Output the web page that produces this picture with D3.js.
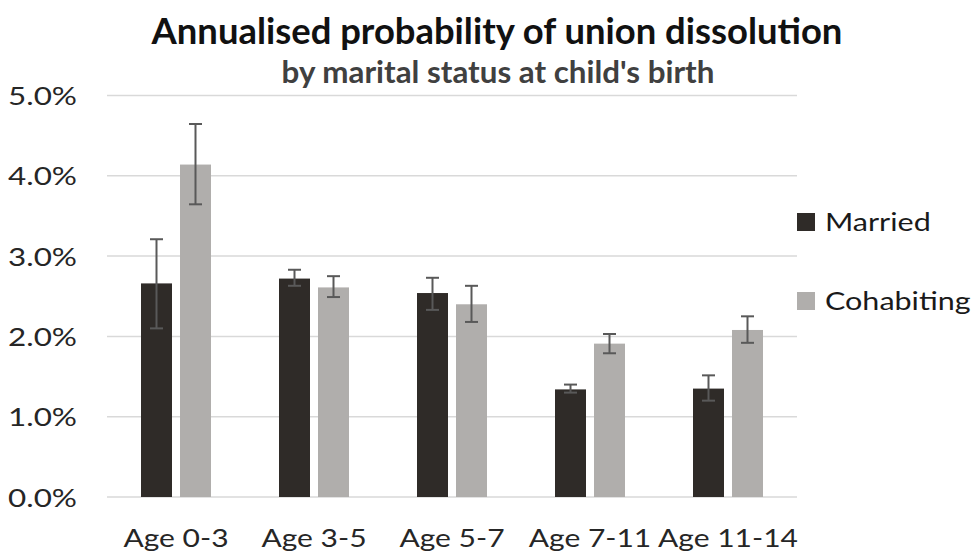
<!DOCTYPE html>
<html><head><meta charset="utf-8">
<script src="https://cdn.jsdelivr.net/npm/d3@7"></script>
<style>body{margin:0;background:#fff}svg{display:block}</style>
</head><body>
<svg id="c" width="972" height="556"></svg>
<script>
const categories = ["Age 0-3","Age 3-5","Age 5-7","Age 7-11","Age 11-14"];
const seriesNames = ["Married","Cohabiting"];
const married = [2.66, 2.72, 2.54, 1.34, 1.35];
const marriedLow = [2.10, 2.63, 2.33, 1.30, 1.20];
const marriedHigh = [3.21, 2.83, 2.73, 1.40, 1.515];
const cohabiting = [4.14, 2.61, 2.40, 1.91, 2.08];
const cohabitingLow = [3.645, 2.49, 2.18, 1.79, 1.92];
const cohabitingHigh = [4.645, 2.75, 2.63, 2.03, 2.25];
const yTicks = [0,1,2,3,4,5];
const colors = ["#2f2b28","#b0aeac"];

const svg = d3.select("#c");
const font = "Lato, 'Open Sans', sans-serif";
const x = d3.scaleBand().domain(categories).range([107,797]);
const y = d3.scaleLinear().domain([0,5]).range([497,95.5]);
function stretch(sel,k){sel.each(function(){const L=this.getComputedTextLength(); d3.select(this).attr("textLength",L*k).attr("lengthAdjust","spacingAndGlyphs");});}

// gridlines
svg.append("g").selectAll("line").data(yTicks).join("line")
  .attr("x1",107).attr("x2",797)
  .attr("y1",d=>y(d)).attr("y2",d=>y(d))
  .attr("stroke","#d9d9d9").attr("stroke-width",1.5);

// y labels
const yl = svg.append("g").selectAll("text").data(yTicks).join("text")
  .attr("x",77).attr("y",d=>y(d)+9.5)
  .attr("text-anchor","end").attr("font-family",font).attr("font-size",25.5)
  .attr("fill","#262626").text(d=>d.toFixed(1)+"%");
stretch(yl,1.23);

// x labels
const xl = svg.append("g").selectAll("text").data(categories).join("text")
  .attr("x",d=>x(d)+x.bandwidth()/2).attr("y",547)
  .attr("text-anchor","middle").attr("font-family",font).attr("font-size",25)
  .attr("fill","#262626").text(d=>d);
stretch(xl,1.2);

const series = [
  {name:seriesNames[0], v:married, lo:marriedLow, hi:marriedHigh, off:-19.5},
  {name:seriesNames[1], v:cohabiting, lo:cohabitingLow, hi:cohabitingHigh, off:19.5}
];
const bw = 31;
series.forEach((s,si)=>{
  const g = svg.append("g");
  g.selectAll("rect").data(categories).join("rect")
    .attr("x",(d)=>x(d)+x.bandwidth()/2+s.off-bw/2)
    .attr("y",(d,i)=>y(s.v[i]))
    .attr("width",bw)
    .attr("height",(d,i)=>y(0)-y(s.v[i]))
    .attr("fill",colors[si]);
  const e = svg.append("g").attr("stroke","#595959").attr("stroke-width",2);
  categories.forEach((d,i)=>{
    const cx = x(d)+x.bandwidth()/2+s.off;
    e.append("line").attr("x1",cx).attr("x2",cx).attr("y1",y(s.hi[i])).attr("y2",y(s.lo[i]));
    e.append("line").attr("x1",cx-6.5).attr("x2",cx+6.5).attr("y1",y(s.hi[i])).attr("y2",y(s.hi[i]));
    e.append("line").attr("x1",cx-6.5).attr("x2",cx+6.5).attr("y1",y(s.lo[i])).attr("y2",y(s.lo[i]));
  });
});

// legend
const leg = svg.append("g");
series.forEach((s,si)=>{
  const base = [231,310][si];
  leg.append("rect").attr("x",797).attr("y",base-18).attr("width",18).attr("height",18).attr("fill",colors[si]);
  const lt = leg.append("text").attr("x",825).attr("y",base).attr("font-family",font).attr("font-size",25)
    .attr("fill","#1a1a1a").text(s.name);
  stretch(lt,1.22);
});

// titles
const t = svg.append("text").attr("x",497).attr("y",44).attr("text-anchor","middle")
  .attr("font-family",font).attr("font-weight","bold").attr("font-size",31).attr("fill","#111")
  .text("Annualised probability of union dissolution");
const st = svg.append("text").attr("x",498).attr("y",83).attr("text-anchor","middle")
  .attr("font-family",font).attr("font-weight","bold").attr("font-size",23).attr("fill","#404040")
  .text("by marital status at child's birth");
function fit(sel,w){const L=sel.node().getComputedTextLength(); const fs=+sel.attr("font-size"); sel.attr("font-size",fs*w/L);}
fit(t,691); fit(st,433);
</script>
</body></html>
